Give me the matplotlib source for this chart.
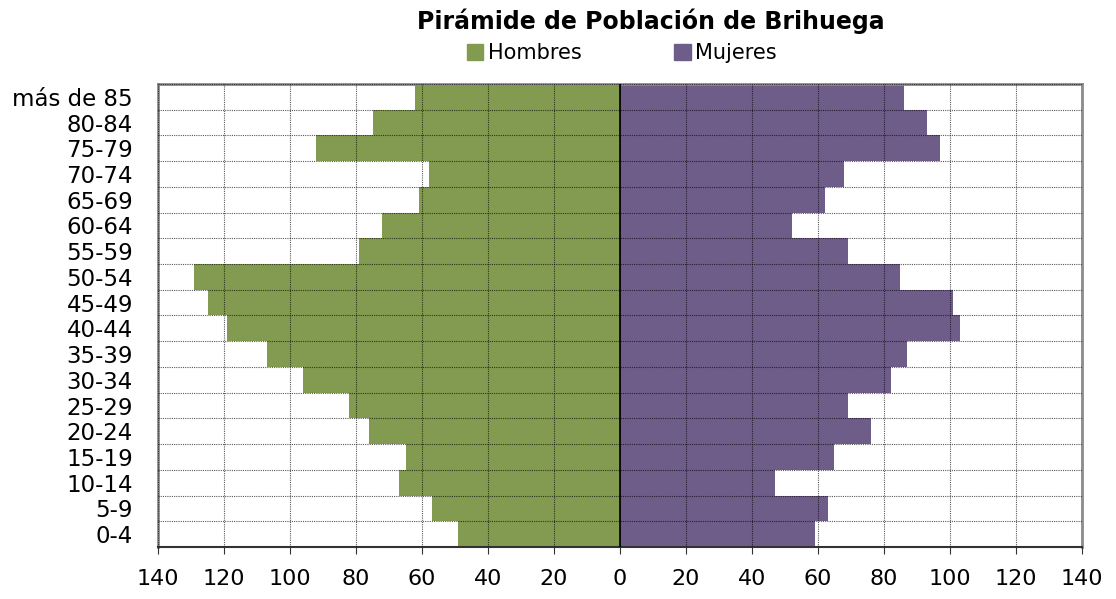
import numpy as np
from matplotlib import pyplot as plt
from matplotlib.patches import Patch

grupos = ["0-4", "5-9", "10-14", "15-19", "20-24", "25-29", "30-34", "35-39",
          "40-44", "45-49", "50-54", "55-59", "60-64", "65-69", "70-74",
          "75-79", "80-84", "más de 85"]
hombres = [49, 57, 67, 65, 76, 82, 96, 107, 119, 125, 129, 79, 72, 61, 58, 92, 75, 62]
mujeres = [59, 63, 47, 65, 76, 69, 82, 87, 103, 101, 85, 69, 52, 62, 68, 97, 93, 86]
xticks = [-140, -120, -100, -80, -60, -40, -20, 0, 20, 40, 60, 80, 100, 120, 140]

VERDE = "#839B50"
MORADO = "#6F5D89"

plt.rcParams["font.family"] = "DejaVu Sans"
fig = plt.figure(figsize=(11.16, 5.99), dpi=100)
ax = fig.add_axes([0.1416, 0.0868, 0.8279, 0.773])

ys = np.arange(len(grupos))
ax.barh(ys, -np.array(hombres), height=1.0, color=VERDE, zorder=1)
ax.barh(ys, mujeres, height=1.0, color=MORADO, zorder=1)
ax.axvline(0, color="black", lw=1.2, zorder=3)

ax.set_xlim(-140, 140)
ax.set_ylim(-0.5, len(grupos) - 0.5)
ax.set_xticks(xticks, [str(abs(v)) for v in xticks], fontsize=16)
ax.set_yticks(ys, grupos, fontsize=16.5)
ax.set_yticks(np.arange(len(grupos) + 1) - 0.5, minor=True)
ax.tick_params(axis="y", which="both", length=0, pad=18)
ax.tick_params(axis="x", length=5, pad=11, color="#333333")

ax.xaxis.grid(True, color="black", ls=(0, (1, 1)), lw=0.8, alpha=0.65, zorder=2)
ax.yaxis.grid(True, which="minor", color="black", ls=(0, (1, 1)), lw=0.8, alpha=0.65, zorder=2)
ax.set_axisbelow(False)

for side in ["left", "top", "right"]:
    ax.spines[side].set_color("#8c8c8c")
    ax.spines[side].set_linewidth(2)
ax.spines["bottom"].set_color("#333333")
ax.spines["bottom"].set_linewidth(1.5)

fig.text(0.583, 0.965, "Pirámide de Población de Brihuega", ha="center", va="center",
         fontsize=17, fontweight="bold")
handles = [Patch(color=VERDE, label="Hombres"), Patch(color=MORADO, label="Mujeres")]
fig.legend(handles=handles, loc="center", bbox_to_anchor=(0.557, 0.911), ncol=2,
           frameon=False, fontsize=15, handlelength=0.8, handleheight=0.8,
           handletextpad=0.2, columnspacing=4.45)

fig.savefig("out.png", dpi=100)
